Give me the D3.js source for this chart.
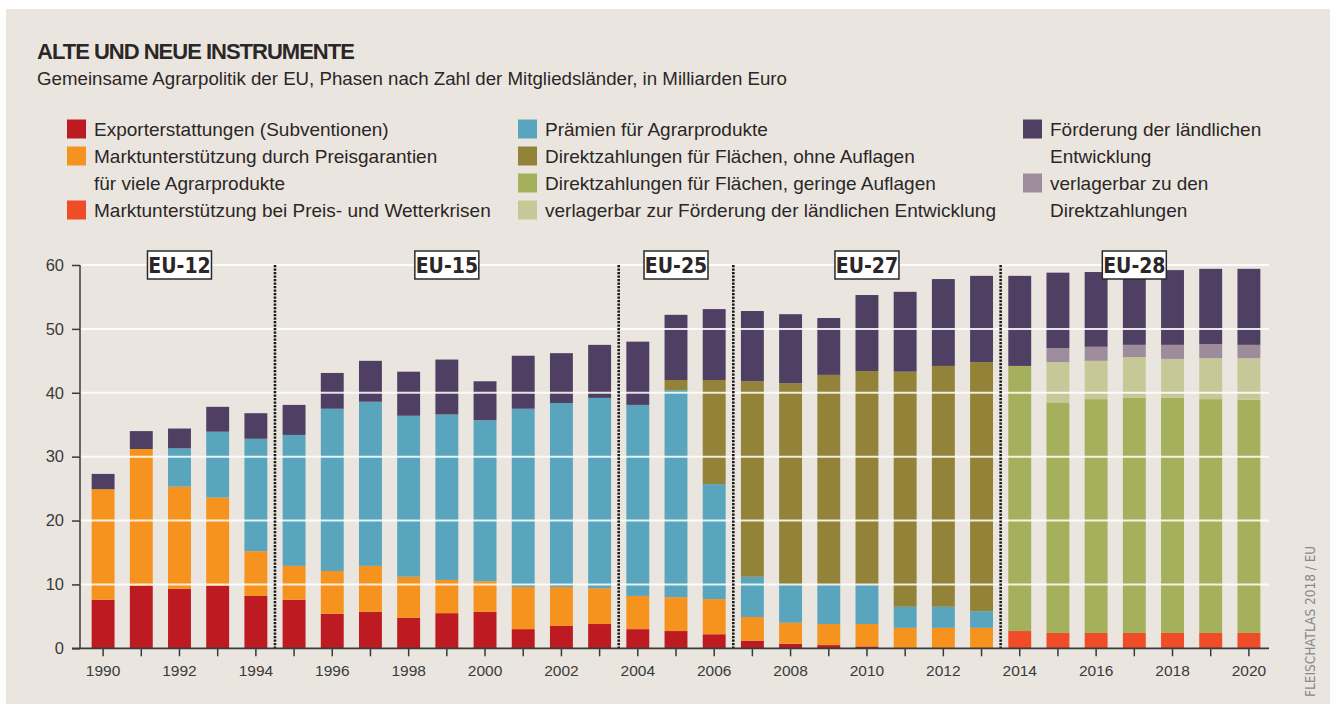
<!DOCTYPE html>
<html lang="de">
<head>
<meta charset="utf-8">
<script src="https://cdn.jsdelivr.net/npm/d3@7"></script>
<style>
  html, body { margin: 0; padding: 0; background: #ffffff; }
  svg { display: block; }
  .sans { font-family: "Liberation Sans", Arial, sans-serif; }
  .narrow { font-family: "Liberation Sans Narrow", "DejaVu Sans Condensed", "Liberation Sans", sans-serif; }
</style>
</head>
<body>
<svg id="chart" width="1330" height="704"></svg>
<script>
// Jahre (Haushaltsjahre der Gemeinsamen Agrarpolitik)
const years = d3.range(1990, 2021);

// Ausgaben je Instrument, Milliarden Euro
const exporterstattungen = [7.6, 9.8, 9.3, 9.8, 8.2, 7.6, 5.4, 5.7, 4.8, 5.5, 5.7, 3.0, 3.5, 3.8, 3.0, 2.7, 2.2, 1.2, 0.7, 0.5, 0.3, 0, 0, 0, 0, 0, 0, 0, 0, 0, 0];
const preisgarantien    = [17.3, 21.4, 16.0, 13.8, 7.0, 5.3, 6.7, 7.2, 6.4, 5.2, 4.8, 6.6, 6.1, 5.6, 5.2, 5.3, 5.5, 3.7, 3.3, 3.3, 3.5, 3.2, 3.2, 3.2, 0, 0, 0, 0, 0, 0, 0];
const krisen            = [0, 0, 0, 0, 0, 0, 0, 0, 0, 0, 0, 0, 0, 0, 0, 0, 0, 0, 0, 0, 0, 0, 0, 0, 2.7, 2.4, 2.4, 2.4, 2.4, 2.4, 2.4];
const praemien          = [0, 0, 6.0, 10.3, 17.6, 20.5, 25.4, 25.7, 25.2, 25.9, 25.2, 27.9, 28.8, 29.8, 29.9, 32.4, 18.0, 6.3, 5.9, 6.1, 6.1, 3.3, 3.3, 2.6, 0, 0, 0, 0, 0, 0, 0];
const direktOhne        = [0, 0, 0, 0, 0, 0, 0, 0, 0, 0, 0, 0, 0, 0, 0, 1.6, 16.3, 30.6, 31.6, 32.9, 33.5, 36.8, 37.7, 39.0, 0, 0, 0, 0, 0, 0, 0];
const direktGering      = [0, 0, 0, 0, 0, 0, 0, 0, 0, 0, 0, 0, 0, 0, 0, 0, 0, 0, 0, 0, 0, 0, 0, 0, 41.5, 36.0, 36.6, 36.8, 36.8, 36.6, 36.5];
const verlagerbarZurFoerderung = [0, 0, 0, 0, 0, 0, 0, 0, 0, 0, 0, 0, 0, 0, 0, 0, 0, 0, 0, 0, 0, 0, 0, 0, 0, 6.4, 6.0, 6.4, 6.1, 6.4, 6.5];
const verlagerbarZuDirekt      = [0, 0, 0, 0, 0, 0, 0, 0, 0, 0, 0, 0, 0, 0, 0, 0, 0, 0, 0, 0, 0, 0, 0, 0, 0, 2.2, 2.2, 1.9, 2.2, 2.2, 2.1];
const laendlicheEntwicklung    = [2.4, 2.8, 3.1, 3.9, 4.0, 4.7, 5.6, 6.4, 6.9, 8.6, 6.1, 8.3, 7.8, 8.3, 9.9, 10.2, 11.1, 11.0, 10.8, 8.9, 11.9, 12.5, 13.6, 13.5, 14.1, 11.8, 11.7, 11.6, 11.7, 11.8, 11.9];

// Erweiterungsphasen: Beschriftung und Jahr, über dem das Schild steht
const phaseLabels = ["EU-12", "EU-15", "EU-25", "EU-27", "EU-28"];
const phaseLabelYears = [1992, 1999, 2005, 2010, 2017];
// Erstes Jahr einer neuen Phase (Trennlinie davor)
const phaseStarts = [1995, 2004, 2007, 2014];

const yTicks = [0, 10, 20, 30, 40, 50, 60];
const xLabelYears = years.filter(y => y % 2 === 0);

// Reihen in Stapelreihenfolge (unten nach oben)
const series = [
  { key: "export",   values: exporterstattungen,        color: "#bd1a22", label: "Exporterstattungen (Subventionen)" },
  { key: "preis",    values: preisgarantien,            color: "#f6921e", label: "Marktunterstützung durch Preisgarantien" },
  { key: "krise",    values: krisen,                    color: "#ef4c27", label: "Marktunterstützung bei Preis- und Wetterkrisen" },
  { key: "praemie",  values: praemien,                  color: "#58a5bd", label: "Prämien für Agrarprodukte" },
  { key: "ohne",     values: direktOhne,                color: "#928339", label: "Direktzahlungen für Flächen, ohne Auflagen" },
  { key: "gering",   values: direktGering,              color: "#a4b05c", label: "Direktzahlungen für Flächen, geringe Auflagen" },
  { key: "zurFoerd", values: verlagerbarZurFoerderung,  color: "#c6c997", label: "verlagerbar zur Förderung der ländlichen Entwicklung" },
  { key: "zuDirekt", values: verlagerbarZuDirekt,       color: "#9e8b9c", label: "verlagerbar zu den Direktzahlungen" },
  { key: "laendl",   values: laendlicheEntwicklung,     color: "#4f4063", label: "Förderung der ländlichen Entwicklung" }
];
const colorOf = Object.fromEntries(series.map(s => [s.key, s.color]));

const rows = years.map((yr, i) => {
  const r = { year: yr };
  series.forEach(s => { r[s.key] = s.values[i]; });
  return r;
});

const svg = d3.select("#chart");
const ink = "#2b2627";

// Hintergrund
svg.append("rect").attr("x", 6).attr("y", 9).attr("width", 1324).attr("height", 695).attr("fill", "#eae6df");

// Titel
svg.append("text").attr("class", "sans").attr("x", 37).attr("y", 59)
  .attr("font-size", 22).attr("font-weight", "bold").attr("letter-spacing", -1)
  .attr("fill", ink).text("ALTE UND NEUE INSTRUMENTE");
svg.append("text").attr("class", "sans").attr("x", 37).attr("y", 85)
  .attr("font-size", 18.7).attr("fill", ink)
  .text("Gemeinsame Agrarpolitik der EU, Phasen nach Zahl der Mitgliedsländer, in Milliarden Euro");

// Legende
const legendItems = [
  { col: 0, row: 0, key: "export",   lines: ["Exporterstattungen (Subventionen)"] },
  { col: 0, row: 1, key: "preis",    lines: ["Marktunterstützung durch Preisgarantien", "für viele Agrarprodukte"] },
  { col: 0, row: 3, key: "krise",    lines: ["Marktunterstützung bei Preis- und Wetterkrisen"] },
  { col: 1, row: 0, key: "praemie",  lines: ["Prämien für Agrarprodukte"] },
  { col: 1, row: 1, key: "ohne",     lines: ["Direktzahlungen für Flächen, ohne Auflagen"] },
  { col: 1, row: 2, key: "gering",   lines: ["Direktzahlungen für Flächen, geringe Auflagen"] },
  { col: 1, row: 3, key: "zurFoerd", lines: ["verlagerbar zur Förderung der ländlichen Entwicklung"] },
  { col: 2, row: 0, key: "laendl",   lines: ["Förderung der ländlichen", "Entwicklung"] },
  { col: 2, row: 2, key: "zuDirekt", lines: ["verlagerbar zu den", "Direktzahlungen"] }
];
const legendColX = [67, 518, 1023];
const legendRowY = 129, legendRowStep = 27, sw = 19;
const legend = svg.append("g");
legendItems.forEach(it => {
  const x0 = legendColX[it.col];
  const yc = legendRowY + it.row * legendRowStep;
  legend.append("rect").attr("x", x0).attr("y", yc - sw / 2).attr("width", sw).attr("height", sw)
    .attr("fill", colorOf[it.key]);
  it.lines.forEach((ln, j) => {
    legend.append("text").attr("class", "sans").attr("x", x0 + 27).attr("y", yc + j * legendRowStep + 6.5)
      .attr("font-size", 19).attr("fill", ink).text(ln);
  });
});

// Skalen
const x = d3.scaleBand().domain(years).range([84, 1268]).paddingInner(0.4).paddingOuter(0.2);
const y = d3.scaleLinear().domain([0, 60]).range([648.3, 265]);

// Balken
const stack = d3.stack().keys(series.map(s => s.key));
const layers = stack(rows);
svg.append("g").selectAll("g").data(layers).join("g")
  .attr("fill", d => colorOf[d.key])
  .selectAll("rect").data(d => d.filter(p => p[1] - p[0] > 0)).join("rect")
  .attr("x", d => x(d.data.year))
  .attr("width", x.bandwidth())
  .attr("y", d => y(d[1]))
  .attr("height", d => y(d[0]) - y(d[1]));

// Gitterlinien über den Balken
svg.append("g").selectAll("line").data(yTicks.filter(t => t > 0)).join("line")
  .attr("x1", 80).attr("x2", 1269)
  .attr("y1", d => y(d)).attr("y2", d => y(d))
  .attr("stroke", "#ffffff").attr("stroke-width", 2).attr("stroke-opacity", 0.85);

// Phasen-Trennlinien
const step = x.step();
svg.append("g").selectAll("line").data(phaseStarts).join("line")
  .attr("x1", d => x(d) - (step - x.bandwidth()) / 2)
  .attr("x2", d => x(d) - (step - x.bandwidth()) / 2)
  .attr("y1", y(60)).attr("y2", y(0))
  .attr("stroke", "#1a1a1a").attr("stroke-width", 2.6)
  .attr("stroke-dasharray", "2.2,1.3");

// Achsen
const axisColor = "#3a3a3a";
const yAxis = svg.append("g").attr("transform", "translate(80,0)")
  .call(d3.axisLeft(y).tickValues(yTicks).tickSize(8).tickPadding(8));
const xAxis = svg.append("g").attr("transform", `translate(0,${y(0)})`)
  .call(d3.axisBottom(x).tickSize(8).tickPadding(9)
    .tickFormat(d => (xLabelYears.includes(d) ? d : "")));
[yAxis, xAxis].forEach(a => {
  a.select(".domain").remove();
  a.selectAll("line").attr("stroke", axisColor).attr("stroke-width", 1.5);
  a.selectAll("text").attr("class", "sans").attr("font-size", 15.5).attr("fill", axisColor);
});
yAxis.selectAll("text").attr("font-size", 16.5);
svg.append("line").attr("x1", 80).attr("x2", 80).attr("y1", y(60)).attr("y2", y(0))
  .attr("stroke", axisColor).attr("stroke-width", 1.5);
svg.append("line").attr("x1", 72).attr("x2", 1269).attr("y1", y(0)).attr("y2", y(0))
  .attr("stroke", axisColor).attr("stroke-width", 1.8);

// Phasen-Schilder
const tags = svg.append("g");
phaseLabels.forEach((lab, i) => {
  const cx = x(phaseLabelYears[i]) + x.bandwidth() / 2;
  const g = tags.append("g").attr("transform", `translate(${cx},${y(60)})`);
  g.append("rect").attr("x", -32).attr("y", -14).attr("width", 64).attr("height", 28)
    .attr("fill", "#ffffff").attr("stroke", "#2a2a2a").attr("stroke-width", 1.5);
  g.append("text").attr("class", "narrow").attr("text-anchor", "middle").attr("y", 7.5)
    .attr("font-size", 21).attr("font-weight", "bold").attr("fill", ink).text(lab);
});

// Quelle
svg.append("text").attr("class", "narrow")
  .attr("transform", "translate(1315,697) rotate(-90)")
  .attr("font-size", 13.5).attr("fill", "#8a8a8a").text("FLEISCHATLAS 2018 / EU");
</script>
</body>
</html>
